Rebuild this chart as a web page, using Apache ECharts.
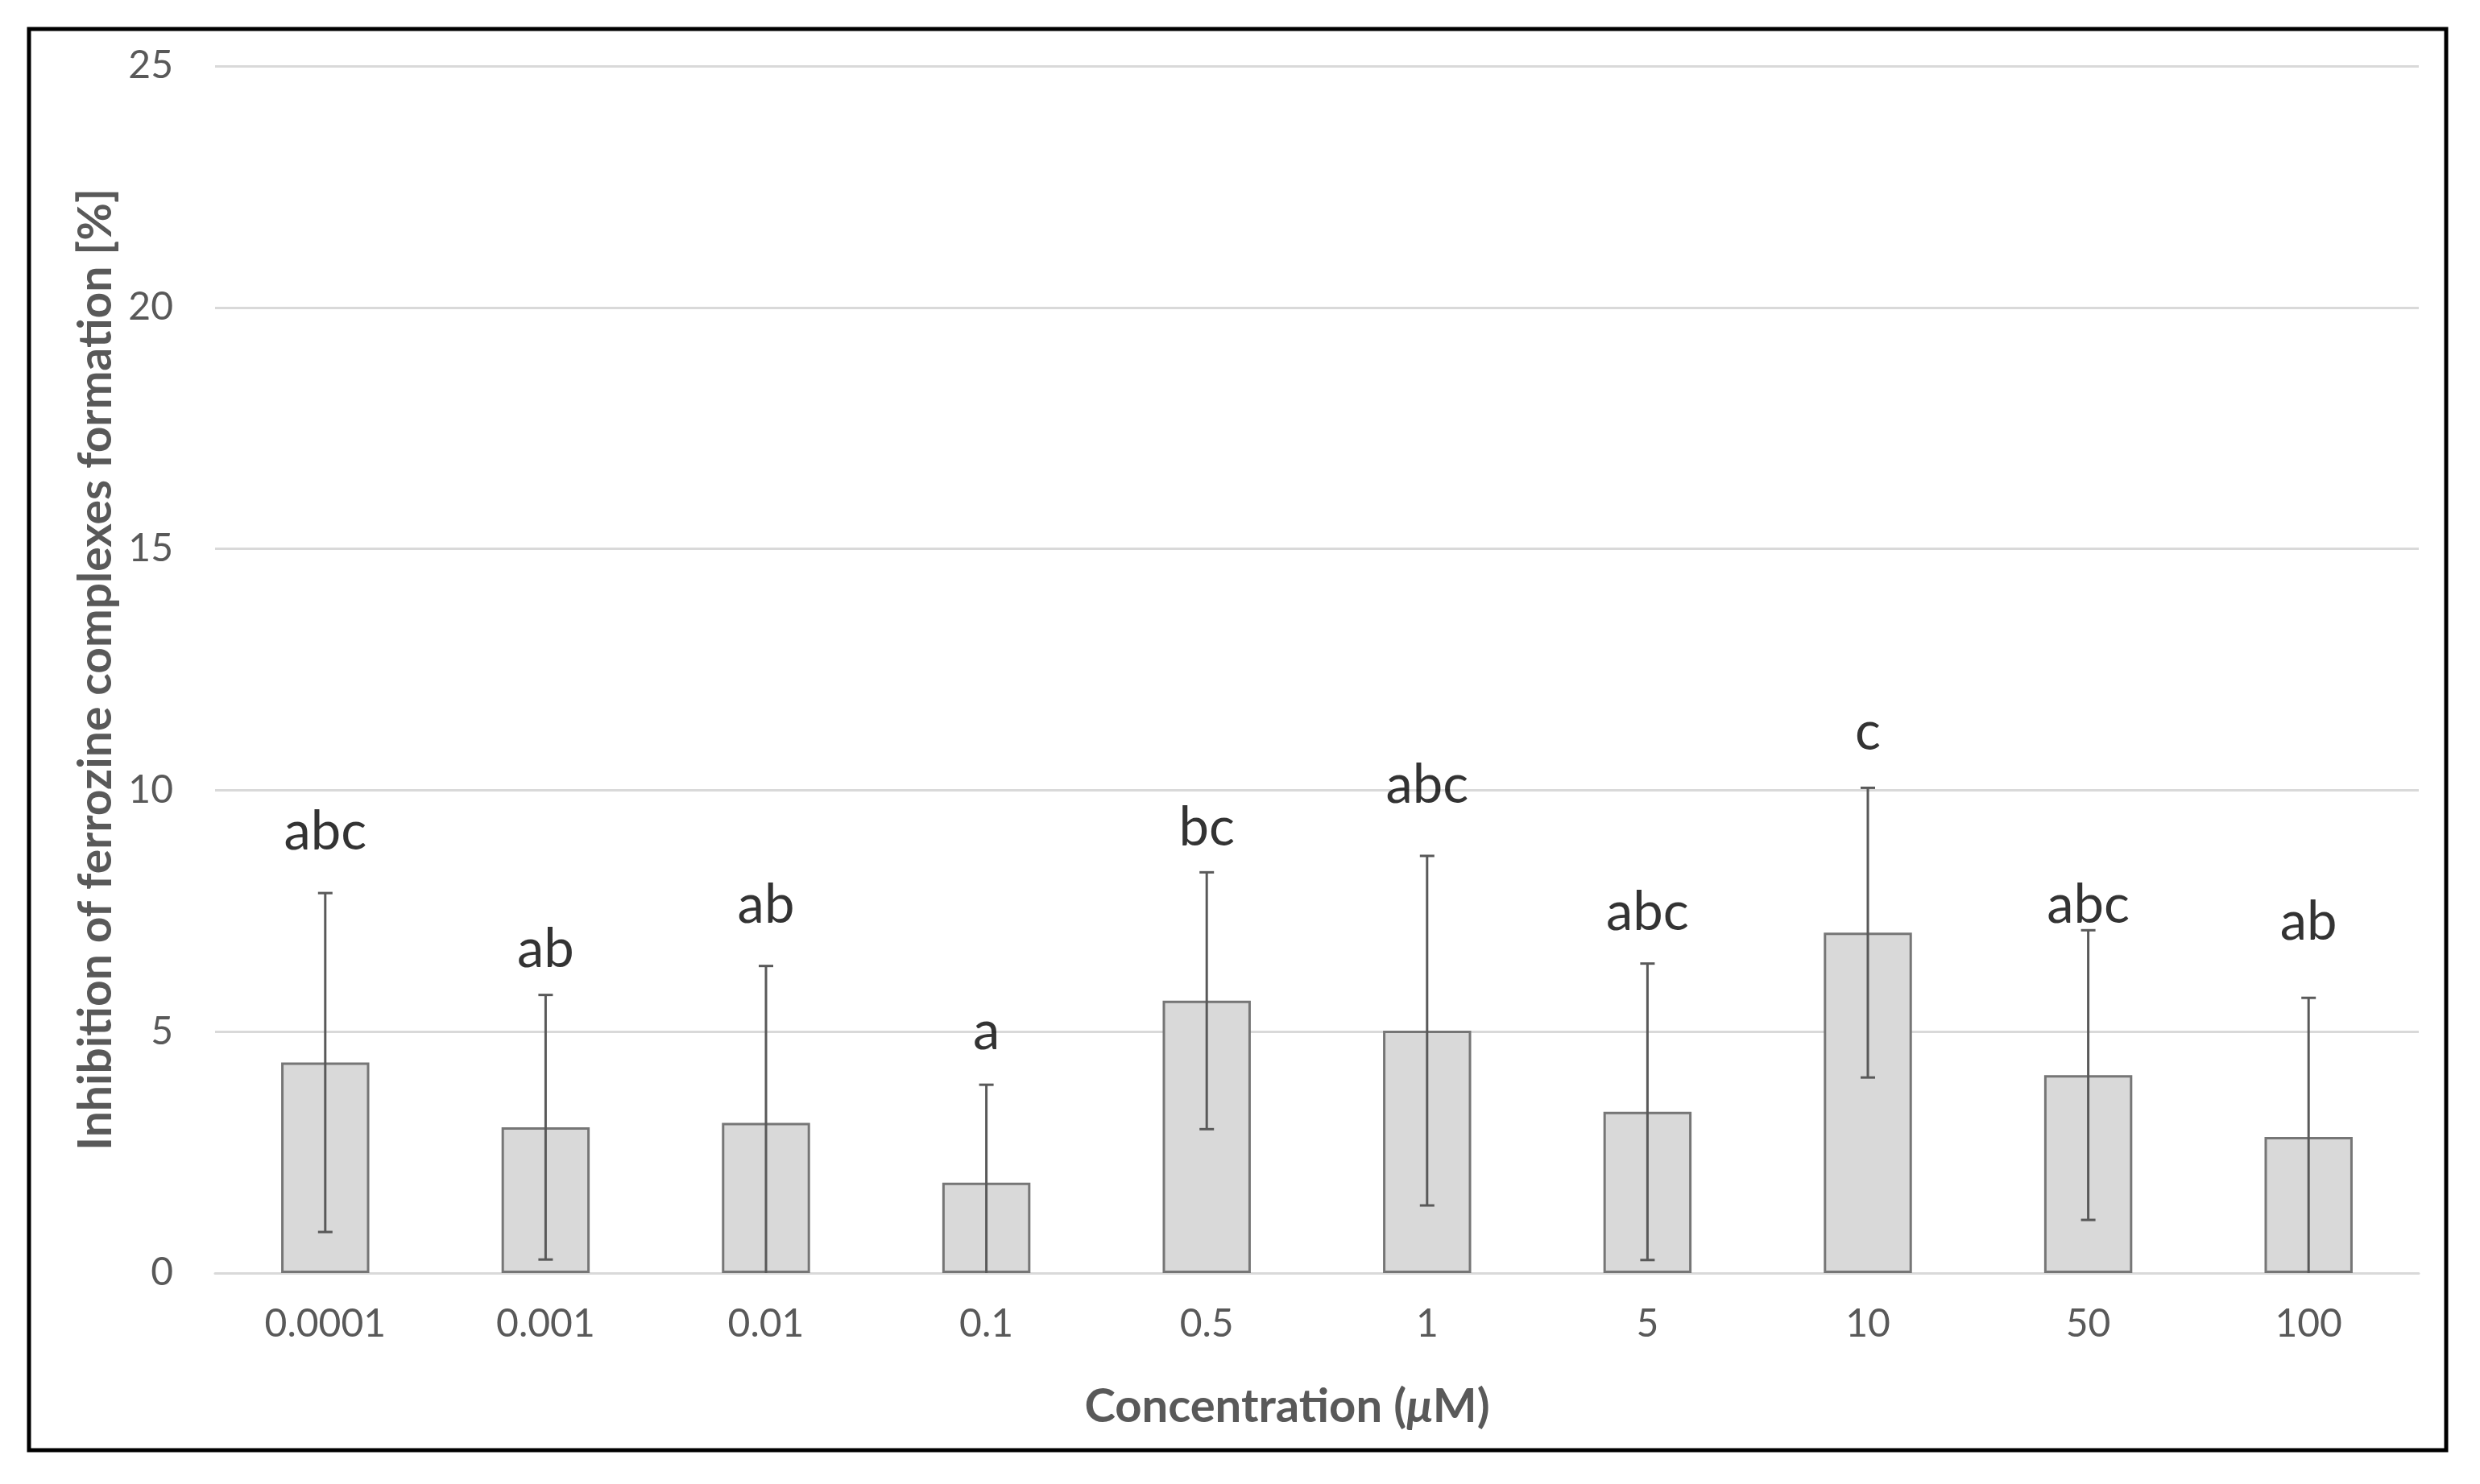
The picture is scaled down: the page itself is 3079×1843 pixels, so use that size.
<!DOCTYPE html>
<html><head><meta charset="utf-8">
<script src="https://cdn.jsdelivr.net/npm/echarts@6/dist/echarts.min.js"></script>
<style>html,body{margin:0;padding:0;background:#fff}#c{width:3079px;height:1843px}</style>
</head><body><div id="c"></div>
<script>
const categories = ['0.0001','0.001','0.01','0.1','0.5','1','5','10','50','100'];
const means = [4.36, 3.02, 3.11, 1.87, 5.64, 5.02, 3.34, 7.05, 4.10, 2.82];
const sds = [3.51, 2.74, 3.25, 2.03, 2.66, 3.62, 3.07, 3.00, 3.00, 2.88];
const letters = ['abc','ab','ab','a','bc','abc','abc','c','abc','ab'];
const letterY = [9.13, 6.70, 7.62, 5.00, 9.22, 10.10, 7.46, 11.20, 7.62, 7.27];
const yMin = 0, yMax = 25, yStep = 5;

const FONT = 'Lato, "Open Sans", sans-serif';
const chart = echarts.init(document.getElementById('c'), null, {renderer: 'canvas'});

const errData = means.map((m, i) => [i, m + sds[i], Math.max(0, m - sds[i])]);
const letterData = letterY.map((v, i) => [i, v]);

chart.setOption({
  backgroundColor: '#fff',
  animation: false,
  textStyle: {fontFamily: FONT},
  grid: {left: 267, right: 76, top: 82, bottom: 262},
  xAxis: {
    type: 'category',
    data: categories,
    axisLine: {show: true, lineStyle: {color: '#d9d9d9', width: 3}},
    axisTick: {show: false},
    axisLabel: {color: '#595959', fontSize: 48, margin: 40, fontFamily: FONT},
    name: 'Concentration ({i|μ}M)',
    nameLocation: 'middle',
    nameGap: 137,
    nameTextStyle: {color: '#595959', fontSize: 58, fontWeight: 'bold', fontFamily: FONT,
      padding: [0, 74, 0, 0],
      rich: {i: {fontStyle: 'italic', fontSize: 58, fontWeight: 'bold', color: '#595959', fontFamily: FONT}}}
  },
  yAxis: {
    type: 'value',
    min: yMin, max: yMax, interval: yStep,
    axisLine: {show: false},
    axisTick: {show: false},
    splitLine: {lineStyle: {color: '#d9d9d9', width: 3}},
    axisLabel: {color: '#595959', fontSize: 48, margin: 52, fontFamily: FONT},
    name: 'Inhibition of ferrozine complexes formation [%]',
    nameLocation: 'middle',
    nameGap: 118,
    nameTextStyle: {color: '#595959', fontSize: 57, fontWeight: 'bold', fontFamily: FONT}
  },
  series: [
    {
      type: 'bar',
      data: means,
      barWidth: '40%',
      itemStyle: {color: '#d9d9d9', borderColor: '#767676', borderWidth: 3}
    },
    {
      type: 'custom',
      data: errData,
      encode: {x: 0, y: [1, 2]},
      z: 5,
      renderItem: function (params, api) {
        const i = api.value(0), hi = api.value(1), lo = api.value(2);
        const pHi = api.coord([i, hi]);
        const pLo = api.coord([i, lo]);
        const half = 9;
        const st = {stroke: '#595959', lineWidth: 3};
        const children = [
          {type: 'line', shape: {x1: pHi[0], y1: pHi[1], x2: pLo[0], y2: pLo[1]}, style: st},
          {type: 'line', shape: {x1: pHi[0] - half, y1: pHi[1], x2: pHi[0] + half, y2: pHi[1]}, style: st}
        ];
        if (lo > 0) {
          children.push({type: 'line', shape: {x1: pLo[0] - half, y1: pLo[1], x2: pLo[0] + half, y2: pLo[1]}, style: st});
        }
        return {type: 'group', children: children};
      }
    },
    {
      type: 'scatter',
      data: letterData,
      symbolSize: 1,
      itemStyle: {color: 'rgba(0,0,0,0)'},
      z: 6,
      label: {
        show: true, position: 'inside',
        formatter: p => letters[p.dataIndex],
        color: '#000', fontSize: 67, fontFamily: FONT
      }
    }
  ],
  graphic: [{
    type: 'rect', z: 100,
    shape: {x: 36, y: 36, width: 3001, height: 1765},
    style: {fill: 'none', stroke: '#000', lineWidth: 5}
  }]
});
</script></body></html>
